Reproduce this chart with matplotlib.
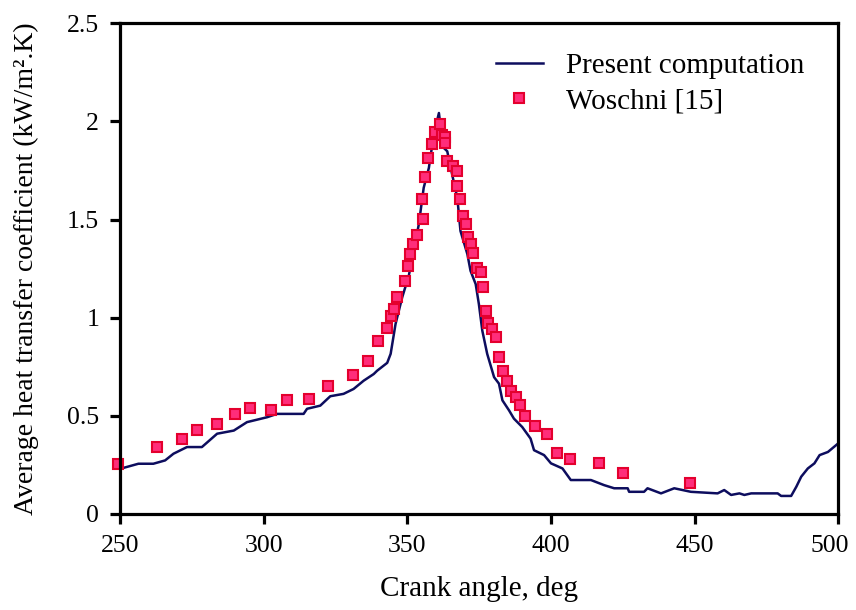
import numpy as np
import matplotlib.pyplot as plt
import matplotlib.transforms as mtransforms

plt.rcParams['font.family'] = ['Liberation Serif', 'DejaVu Serif']

# present computation (crank angle, deg / h, kW/m2.K)
comp_angle = [250.0, 256.4, 261.6, 265.7, 268.6, 273.3, 278.5, 283.8, 289.6, 294.2,
              301.2, 304.6, 313.9, 315.1, 319.7, 323.2, 327.8, 331.3, 334.8, 338.3,
              339.5, 343.0, 344.2, 345.9, 348.2, 350.5, 352.2, 354.0, 355.7, 357.5,
              359.2, 361.0, 361.5, 362.7, 363.9, 365.6, 367.4, 368.5, 370.9, 372.0,
              373.8, 374.9, 376.1, 377.8, 380.2, 381.9, 383.1, 385.4, 387.1, 390.0,
              392.9, 394.1, 397.6, 400.0, 404.0, 406.9, 413.9, 418.5, 422.0, 426.7,
              427.2, 432.4, 433.6, 438.3, 442.9, 448.7, 458.0, 460.3, 462.7, 465.6,
              467.3, 469.7, 478.9, 480.1, 483.6, 485.4, 487.1, 489.4, 491.7, 493.5,
              496.4, 500.0]
comp_h = [0.23, 0.256, 0.256, 0.273, 0.307, 0.341, 0.341, 0.409, 0.425, 0.468,
          0.493, 0.510, 0.510, 0.536, 0.552, 0.60, 0.612, 0.637, 0.679, 0.713,
          0.730, 0.770, 0.816, 0.968, 1.103, 1.213, 1.34, 1.476, 1.662, 1.763,
          1.933, 2.043, 1.984, 1.865, 1.848, 1.73, 1.611, 1.442, 1.324, 1.239,
          1.171, 1.07, 0.934, 0.816, 0.697, 0.664, 0.579, 0.528, 0.486, 0.443,
          0.384, 0.325, 0.30, 0.258, 0.232, 0.173, 0.173, 0.147, 0.131, 0.131,
          0.113, 0.113, 0.131, 0.105, 0.131, 0.113, 0.105, 0.122, 0.097, 0.105,
          0.097, 0.105, 0.105, 0.092, 0.092, 0.139, 0.19, 0.232, 0.258, 0.30,
          0.316, 0.36]

# Woschni correlation points
wos_angle = [249.4, 262.8, 271.5, 276.9, 283.6, 290.0, 295.2, 302.6, 308.0, 315.9,
             322.5, 331.1, 336.4, 339.8, 342.8, 344.3, 345.4, 346.3, 349.2, 350.3,
             350.9, 351.9, 353.3, 355.4, 355.0, 356.2, 357.3, 358.5, 359.6, 361.4,
             362.0, 363.1, 363.1, 363.7, 366.0, 367.2, 367.4, 368.3, 369.3, 370.4,
             371.2, 372.1, 373.0, 374.2, 375.5, 376.5, 377.4, 378.2, 379.4, 380.9,
             381.9, 383.2, 384.6, 386.0, 388.0, 389.1, 391.0, 394.4, 398.7, 402.0,
             406.6, 416.8, 425.2, 448.4]
wos_h = [0.253, 0.341, 0.383, 0.430, 0.459, 0.507, 0.539, 0.530, 0.581, 0.586,
         0.652, 0.710, 0.778, 0.880, 0.948, 1.007, 1.045, 1.108, 1.185, 1.265,
         1.325, 1.375, 1.421, 1.501, 1.603, 1.718, 1.812, 1.885, 1.948, 1.987,
         1.931, 1.922, 1.888, 1.800, 1.773, 1.749, 1.671, 1.603, 1.518, 1.477,
         1.413, 1.375, 1.328, 1.252, 1.234, 1.158, 1.036, 0.972, 0.941, 0.900,
         0.798, 0.730, 0.680, 0.625, 0.597, 0.557, 0.497, 0.448, 0.408, 0.312,
         0.279, 0.258, 0.207, 0.159]

xticks = [250, 300, 350, 400, 450, 500]
yticks = [0, 0.5, 1, 1.5, 2, 2.5]
ytick_labels = ['0', '0.5', '1', '1.5', '2', '2.5']

fig = plt.figure(figsize=(8.56, 6.10), dpi=100)
ax = fig.add_axes([0.1402, 0.1574, 0.8391, 0.8044])

ax.plot(comp_angle, comp_h, '-', color='#0d0d5e', lw=1.8, label='Present computation')
ax.plot(wos_angle, wos_h, 's', ms=6.8, mfc='#ff2d7a', mec='#e4002e', mew=1.5,
        clip_on=False, label='Woschni [15]')

ax.set_xlim(250, 500)
ax.set_ylim(0, 2.5)
ax.set_xticks(xticks)
ax.set_yticks(yticks)
ax.set_yticklabels(ytick_labels)

for s in ax.spines.values():
    s.set_linewidth(2.3)
ax.tick_params(direction='out', length=7, width=2.3, labelsize=18.5, pad=8)

# nudge the last x label so it stays inside the figure
last = ax.get_xticklabels()[-1]
last.set_transform(last.get_transform() +
                   mtransforms.ScaledTranslation(-6 / 72, 0, fig.dpi_scale_trans))

ax.set_xlabel('Crank angle, deg', fontsize=21, labelpad=14)
ax.set_ylabel('Average heat transfer coefficient (kW/m\u00b2.K)', fontsize=20, labelpad=20)

ax.legend(loc='upper right', bbox_to_anchor=(0.977, 0.975), frameon=False,
          fontsize=21, handlelength=1.6, handletextpad=0.8, labelspacing=0.3,
          borderaxespad=0.2)

fig.savefig('out.png', dpi=100)
